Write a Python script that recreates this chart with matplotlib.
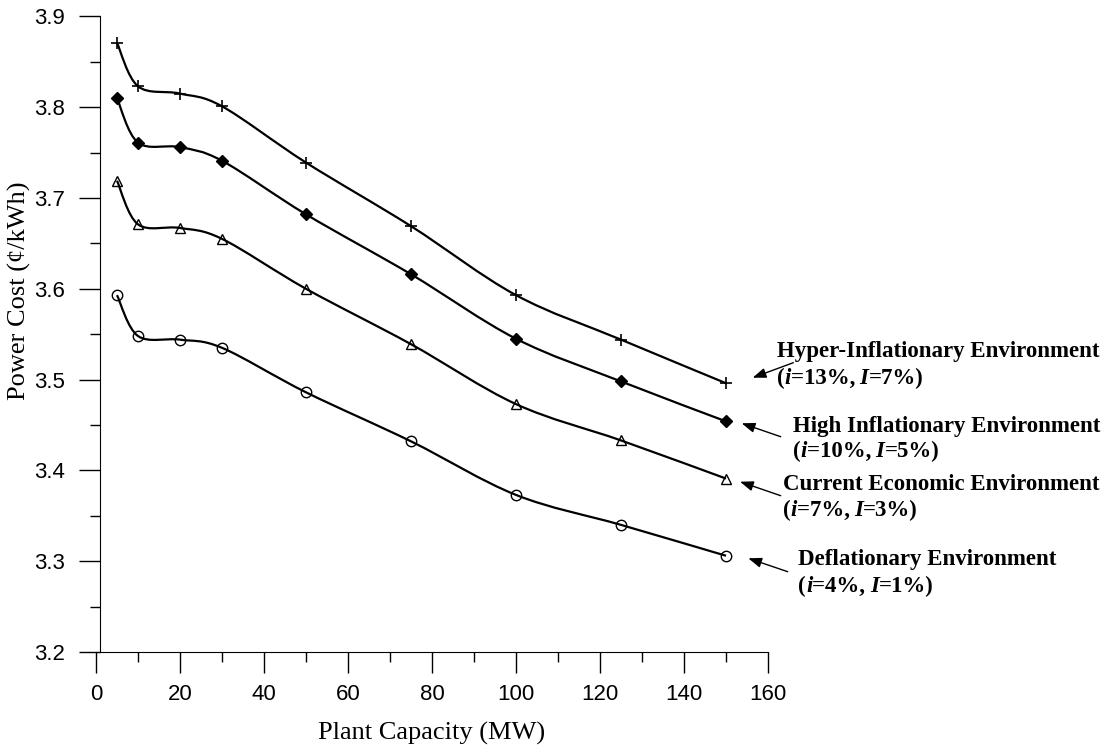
import matplotlib.pyplot as plt
import numpy as np
from matplotlib.path import Path
from matplotlib.patches import PathPatch
from matplotlib.ticker import MultipleLocator, FormatStrFormatter
from matplotlib.offsetbox import TextArea, HPacker, AnnotationBbox

# data
capacity = [5, 10, 20, 30, 50, 75, 100, 125, 150]
hyper = [3.871, 3.823, 3.815, 3.801, 3.739, 3.669, 3.593, 3.544, 3.496]
high = [3.810, 3.761, 3.756, 3.741, 3.682, 3.616, 3.545, 3.498, 3.454]
current = [3.719, 3.671, 3.667, 3.655, 3.600, 3.539, 3.473, 3.433, 3.391]
deflation = [3.593, 3.548, 3.544, 3.535, 3.486, 3.432, 3.373, 3.340, 3.306]

names = ['Hyper-Inflationary Environment', 'High Inflationary Environment',
         'Current Economic Environment', 'Deflationary Environment']
rates = [('13%', '7%'), ('10%', '5%'), ('7%', '3%'), ('4%', '1%')]

W, H = 1109, 755
SERIF = 'Liberation Serif'
SANS = 'Liberation Sans'


def smooth_path(x, y):
    # excel-like smoothed line (catmull-rom as cubic bezier)
    pts = np.column_stack([x, y]).astype(float)
    n = len(pts)
    verts = [pts[0]]
    codes = [Path.MOVETO]
    for i in range(n - 1):
        p0 = pts[i - 1] if i > 0 else pts[i]
        p1 = pts[i]
        p2 = pts[i + 1]
        p3 = pts[i + 2] if i + 2 < n else pts[i + 1]
        verts += [p1 + (p2 - p0) / 6, p2 - (p3 - p1) / 6, p2]
        codes += [Path.CURVE4] * 3
    return Path(verts, codes)


def fx(px):
    return px / W


def fy(py):
    return 1 - py / H


fig = plt.figure(figsize=(W / 100, H / 100), dpi=100)
ax = fig.add_axes([fx(96), fy(652), 672 / W, 635.6 / H])

series = [
    (hyper, dict(marker='+', ms=9, mew=1.2, mfc='none')),
    (high, dict(marker='D', ms=5.8, mfc='black')),
    (current, dict(marker='^', ms=7.5, mew=1.0, mfc='none')),
    (deflation, dict(marker='o', ms=7.5, mew=1.0, mfc='none')),
]
for vals, style in series:
    ax.add_patch(PathPatch(smooth_path(capacity, vals), fill=False,
                           edgecolor='black', lw=1.6))
    ax.plot(capacity, vals, linestyle='none', color='black', mec='black', **style)

ax.set_xlim(0, 160)
ax.set_ylim(3.2, 3.9)
ax.spines['top'].set_visible(False)
ax.spines['right'].set_visible(False)
ax.spines['left'].set_position(('data', 0.95))

ax.xaxis.set_major_locator(MultipleLocator(20))
ax.xaxis.set_minor_locator(MultipleLocator(10))
ax.yaxis.set_major_locator(MultipleLocator(0.1))
ax.yaxis.set_minor_locator(MultipleLocator(0.05))
ax.yaxis.set_major_formatter(FormatStrFormatter('%.1f'))
ax.tick_params(which='major', length=15, width=1)
ax.tick_params(which='minor', length=7.5, width=1)
ax.tick_params(axis='y', which='major', pad=10)
ax.tick_params(axis='x', which='major', pad=8)
for lab in ax.get_xticklabels() + ax.get_yticklabels():
    lab.set_fontfamily(SANS)
    lab.set_fontsize(16)

ax.set_xlabel('Plant Capacity (MW)', fontfamily=SERIF, fontsize=19)
ax.xaxis.set_label_coords(0.5, -0.11)
ax.set_ylabel('Power Cost (\u00a2/kWh)', fontfamily=SERIF, fontsize=19)
ax.yaxis.set_label_coords(-0.097, 0.568)

# annotations: (text left, line1 y, line2 y), arrow head, arrow tail in pixels
labels_pos = [(776.7, 351.7, 378.0), (792.7, 426.0, 451.7),
              (782.7, 485.0, 510.0), (798.3, 560.0, 586.7)]
arrow_heads = [(752.7, 377.7), (741.7, 423.3), (740.0, 481.7), (748.3, 558.3)]
arrow_tails = [(793.3, 362.7), (780.7, 436.7), (780.7, 495.7), (787.7, 571.7)]

bold = dict(fontfamily=SERIF, fontweight='bold', fontsize=16.5, color='black')
ital = dict(bold, fontstyle='italic')

for name, (ri, rI), (lx, y1, y2), head, tail in zip(names, rates, labels_pos,
                                                    arrow_heads, arrow_tails):
    fig.text(fx(lx), fy(y1), name, ha='left', va='center', **bold)
    parts = [('(', bold), ('i', ital), ('=' + ri + ',\u2009', bold),
             ('I', ital), ('=' + rI + ')', bold)]
    box = HPacker(children=[TextArea(s, textprops=p) for s, p in parts],
                  align='baseline', pad=0, sep=0)
    ab = AnnotationBbox(box, (fx(lx), fy(y2)), xycoords='figure fraction',
                        box_alignment=(0, 0.5), frameon=False, pad=0,
                        annotation_clip=False)
    ax.add_artist(ab)
    ax.annotate('', xy=(fx(head[0]), fy(head[1])), xycoords='figure fraction',
                xytext=(fx(tail[0]), fy(tail[1])), textcoords='figure fraction',
                annotation_clip=False,
                arrowprops=dict(arrowstyle='-|>,head_length=0.8,head_width=0.3',
                                color='black', lw=1, shrinkA=0, shrinkB=0,
                                mutation_scale=10))

fig.savefig('out.png', dpi=100)
